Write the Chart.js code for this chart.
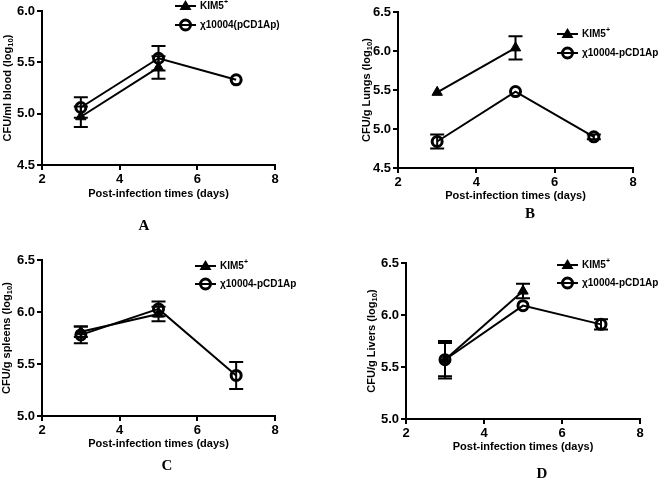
<!DOCTYPE html>
<html>
<head>
<meta charset="utf-8">
<script src="https://cdn.jsdelivr.net/npm/chart.js@4.4.0/dist/chart.umd.min.js"></script>
<style>
body { margin: 0; background: #fff; width: 661px; height: 482px; position: relative; overflow: hidden; }
canvas { position: absolute; }
.lbl { position: absolute; font: bold 15px "Liberation Serif", serif; transform: translate(-50%, -50%); }
</style>
</head>
<body>
<canvas id="chartA" width="330" height="240" style="left:0;top:0"></canvas>
<canvas id="chartB" width="331" height="240" style="left:330px;top:0"></canvas>
<canvas id="chartC" width="330" height="242" style="left:0;top:240px"></canvas>
<canvas id="chartD" width="331" height="242" style="left:330px;top:240px"></canvas>
<div class="lbl" style="left:144px;top:225px">A</div>
<div class="lbl" style="left:530px;top:213px">B</div>
<div class="lbl" style="left:167px;top:465px">C</div>
<div class="lbl" style="left:542px;top:473px">D</div>
<script>
// days post infection
const days = [3, 5, 7];
const xTickValues = [2, 4, 6, 8];

// A - blood
const bloodKim = [4.97, 5.45, null];
const bloodKimErr = [0.10, 0.11, null];
const bloodChi = [5.06, 5.54, 5.33];
const bloodChiErr = [0.10, 0.12, null];
const bloodTicks = [4.5, 5.0, 5.5, 6.0];

// B - lungs
const lungKim = [5.47, 6.04, null];
const lungKimErr = [null, 0.15, null];
const lungChi = [4.84, 5.48, 4.90];
const lungChiErr = [0.09, null, 0.03];
const lungTicks = [4.5, 5.0, 5.5, 6.0, 6.5];

// C - spleens
const spleenKim = [5.81, 5.98, null];
const spleenKimErr = [0.05, 0.07, null];
const spleenChi = [5.78, 6.03, 5.39];
const spleenChiErr = [0.08, 0.07, 0.13];
const spleenTicks = [5.0, 5.5, 6.0, 6.5];

// D - livers
const liverKim = [5.57, 6.23, null];
const liverKimErr = [0.18, 0.07, null];
const liverChi = [5.57, 6.09, 5.91];
const liverChiErr = [0.16, null, 0.05];
const liverTicks = [5.0, 5.5, 6.0, 6.5];

const FONT = '"Liberation Sans", Arial, sans-serif';

// text with sub/superscript parts
const drawRich = (ctx, parts, x, y, size) => {
    let cx = x;
    ctx.textBaseline = 'middle';
    ctx.textAlign = 'left';
    parts.forEach(p => {
        ctx.font = 'bold ' + (p.sub || p.sup ? size * 0.7 : size) + 'px ' + FONT;
        const dy = p.sub ? size * 0.3 : (p.sup ? -size * 0.35 : 0);
        ctx.fillText(p.t, cx, y + dy);
        cx += ctx.measureText(p.t).width;
    });
};

const richWidth = (ctx, parts, size) => parts.reduce((s, p) => {
    ctx.font = 'bold ' + (p.sub || p.sup ? size * 0.7 : size) + 'px ' + FONT;
    return s + ctx.measureText(p.t).width;
}, 0);

const decorPlugin = {
    id: 'decor',
    afterDatasetsDraw(chart) {
        const o = chart.options.plugins.decor;
        const ctx = chart.ctx;
        const { x, y } = chart.scales;
        const area = chart.chartArea;
        ctx.save();
        ctx.strokeStyle = '#000';
        ctx.fillStyle = '#000';
        ctx.lineWidth = 2;

        // error bars
        chart.data.datasets.forEach(ds => {
            ds.data.forEach((pt, i) => {
                const e = ds.err[i];
                if (pt.y == null || e == null) return;
                const px = x.getPixelForValue(pt.x);
                const top = y.getPixelForValue(pt.y + e);
                const bot = y.getPixelForValue(pt.y - e);
                ctx.beginPath();
                ctx.moveTo(px, top); ctx.lineTo(px, bot);
                ctx.moveTo(px - 7, top); ctx.lineTo(px + 7, top);
                ctx.moveTo(px - 7, bot); ctx.lineTo(px + 7, bot);
                ctx.stroke();
            });
        });

        // axis titles
        const xt = [{ t: 'Post-infection times (days)' }];
        const xw = richWidth(ctx, xt, 11);
        drawRich(ctx, xt, (area.left + area.right) / 2 - xw / 2, area.bottom + o.xTitleDy, 11);

        ctx.save();
        ctx.translate(area.left - o.yTitleDx, (area.top + area.bottom) / 2);
        ctx.rotate(-Math.PI / 2);
        const yw = richWidth(ctx, o.yTitle, 11);
        drawRich(ctx, o.yTitle, -yw / 2, 0, 11);
        ctx.restore();

        // legend
        const lg = o.legend;
        chart.data.datasets.forEach((ds, i) => {
            const ly = lg.y + i * lg.gap;
            ctx.lineWidth = 2;
            ctx.beginPath();
            ctx.moveTo(lg.x, ly); ctx.lineTo(lg.x + 21, ly);
            ctx.stroke();
            const mx = lg.x + 10.5;
            if (ds.pointStyle === 'triangle') {
                ctx.beginPath();
                ctx.moveTo(mx, ly - 6); ctx.lineTo(mx + 6, ly + 4); ctx.lineTo(mx - 6, ly + 4);
                ctx.closePath(); ctx.fill();
            } else {
                ctx.lineWidth = 3;
                ctx.beginPath();
                ctx.arc(mx, ly, 5, 0, Math.PI * 2);
                ctx.stroke();
            }
            drawRich(ctx, ds.legendParts, lg.x + 25, ly, 10);
        });
        ctx.restore();
    }
};

const makeChart = (id, kim, kimErr, chi, chiErr, yTicks, chiLabel, cfg) => {
    const canvas = document.getElementById(id);
    const W = canvas.width, H = canvas.height;
    const a = cfg.area;
    const pts = arr => days.map((d, i) => ({ x: d, y: arr[i] }));
    const tickFont = { family: FONT, size: 13, weight: 'bold' };
    new Chart(canvas, {
        type: 'line',
        data: {
            datasets: [
                {
                    label: 'KIM5+',
                    legendParts: [{ t: 'KIM5' }, { t: '+', sup: true }],
                    data: pts(kim),
                    err: kimErr,
                    borderColor: '#000',
                    borderWidth: 2,
                    pointStyle: 'triangle',
                    pointRadius: 6,
                    pointBackgroundColor: '#000',
                    pointBorderColor: '#000',
                    pointBorderWidth: 1
                },
                {
                    label: chiLabel,
                    legendParts: [{ t: 'χ' + chiLabel }],
                    data: pts(chi),
                    err: chiErr,
                    borderColor: '#000',
                    borderWidth: 2,
                    pointStyle: 'circle',
                    pointRadius: 5,
                    pointBackgroundColor: 'rgba(0,0,0,0)',
                    pointBorderColor: '#000',
                    pointBorderWidth: 3
                }
            ]
        },
        options: {
            responsive: false,
            animation: false,
            layout: { padding: { left: 0, top: a.top, right: W - a.right, bottom: H - a.bottom - 22 } },
            scales: {
                x: {
                    type: 'linear',
                    min: xTickValues[0],
                    max: xTickValues[xTickValues.length - 1],
                    afterBuildTicks: s => { s.ticks = xTickValues.map(v => ({ value: v })); },
                    afterFit: s => { s.height = 22; },
                    ticks: { color: '#000', font: tickFont, padding: 2 },
                    grid: { drawOnChartArea: false, drawTicks: true, tickLength: 5, color: '#000', lineWidth: 2 },
                    border: { color: '#000', width: 2 }
                },
                y: {
                    min: yTicks[0],
                    max: yTicks[yTicks.length - 1],
                    afterBuildTicks: s => { s.ticks = yTicks.map(v => ({ value: v })); },
                    afterFit: s => { s.width = a.left; },
                    ticks: { color: '#000', font: tickFont, padding: 2, callback: v => v.toFixed(1) },
                    grid: { drawOnChartArea: false, drawTicks: true, tickLength: 5, color: '#000', lineWidth: 2 },
                    border: { color: '#000', width: 2 }
                }
            },
            plugins: {
                legend: { display: false },
                tooltip: { enabled: false },
                decor: cfg
            }
        },
        plugins: [decorPlugin]
    });
};

makeChart('chartA', bloodKim, bloodKimErr, bloodChi, bloodChiErr, bloodTicks, '10004(pCD1Ap)', {
    area: { left: 42, top: 11, right: 275, bottom: 165 },
    xTitleDy: 29, yTitleDx: 34,
    yTitle: [{ t: 'CFU/ml blood (log' }, { t: '10', sub: true }, { t: ')' }],
    legend: { x: 175, y: 6, gap: 19 }
});
makeChart('chartB', lungKim, lungKimErr, lungChi, lungChiErr, lungTicks, '10004-pCD1Ap', {
    area: { left: 68, top: 12, right: 303, bottom: 168 },
    xTitleDy: 28, yTitleDx: 31,
    yTitle: [{ t: 'CFU/g Lungs (log' }, { t: '10', sub: true }, { t: ')' }],
    legend: { x: 227, y: 34, gap: 19 }
});
makeChart('chartC', spleenKim, spleenKimErr, spleenChi, spleenChiErr, spleenTicks, '10004-pCD1Ap', {
    area: { left: 42, top: 20, right: 275, bottom: 176 },
    xTitleDy: 28, yTitleDx: 35,
    yTitle: [{ t: 'CFU/g spleens (log' }, { t: '10', sub: true }, { t: ')' }],
    legend: { x: 195, y: 26, gap: 18 }
});
makeChart('chartD', liverKim, liverKimErr, liverChi, liverChiErr, liverTicks, '10004-pCD1Ap', {
    area: { left: 76, top: 23, right: 310, bottom: 179 },
    xTitleDy: 28, yTitleDx: 34,
    yTitle: [{ t: 'CFU/g Livers (log' }, { t: '10', sub: true }, { t: ')' }],
    legend: { x: 227, y: 25, gap: 18 }
});
</script>
</body>
</html>
